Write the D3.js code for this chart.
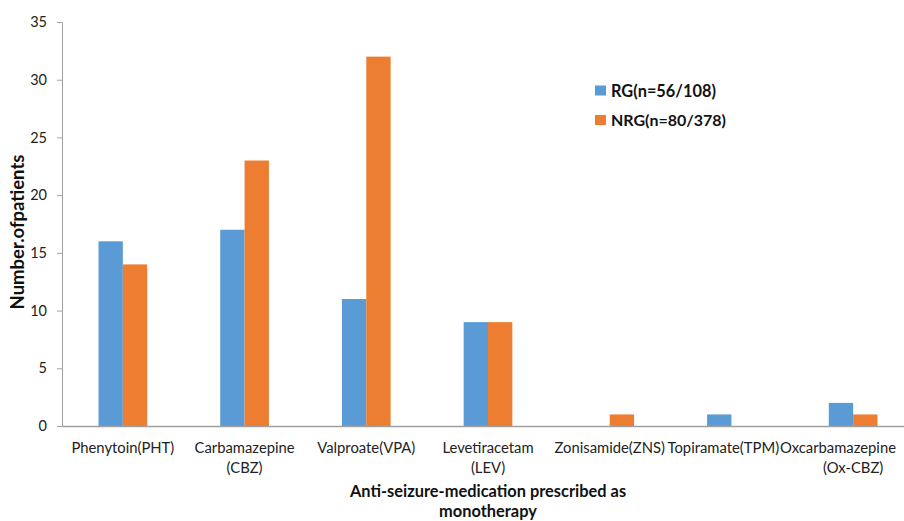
<!DOCTYPE html>
<html><head><meta charset="utf-8">
<script src="https://cdn.jsdelivr.net/npm/d3@7"></script>
<style>body{margin:0;background:#fff}svg{display:block}text{font-family:Lato,"Open Sans",sans-serif}</style>
</head><body>
<svg id="c" width="904" height="521"></svg>
<script>
const categories = [["Phenytoin(PHT)"],["Carbamazepine","(CBZ)"],["Valproate(VPA)"],["Levetiracetam","(LEV)"],["Zonisamide(ZNS)"],["Topiramate(TPM)"],["Oxcarbamazepine","(Ox-CBZ)"]];
const seriesNames = ["RG(n=56/108)","NRG(n=80/378)"];
const rgValues = [16,17,11,9,0,1,2];
const nrgValues = [14,23,32,9,1,0,1];
const yTicks = [0,5,10,15,20,25,30,35];
const colors = ["#5B9BD5","#ED7D31"];

const svg = d3.select("#c");
const x0 = d3.scaleBand().domain(d3.range(categories.length)).range([62,914]).paddingInner(0.6).paddingOuter(0.3);
const x1 = d3.scaleBand().domain([0,1]).range([0,x0.bandwidth()]);
const y = d3.scaleLinear().domain([0,35]).range([426,22]);

function fit(sel, target){
  const n = sel.node();
  const fs = parseFloat(sel.attr("font-size"));
  const w = n.getComputedTextLength();
  sel.attr("font-size", fs*target/w);
}

// bars
const data = categories.map((c,i)=>[rgValues[i],nrgValues[i]]);
const g = svg.append("g");
data.forEach((vals,i)=>{
  vals.forEach((v,s)=>{
    if(v>0) g.append("rect").attr("x",x0(i)+x1(s)).attr("y",y(v)).attr("width",x1.bandwidth()).attr("height",y(0)-y(v)).attr("fill",colors[s]);
  });
});

// y axis
const ya = svg.append("g").attr("transform","translate(62,0)").call(d3.axisLeft(y).tickValues(yTicks).tickSize(5).tickPadding(10));
ya.select(".domain").attr("stroke","#a0a0a0");
ya.selectAll(".tick line").attr("stroke","#a0a0a0");
ya.selectAll("text").attr("font-size",14.5).attr("fill","#222").style("font-family","Lato,sans-serif");

// x axis
const xa = svg.append("g").attr("transform","translate(0,426)").call(d3.axisBottom(x0).tickSize(0).tickFormat(""));
xa.select(".domain").attr("stroke","#a0a0a0").attr("stroke-width",1.5);
const firstLines = [];
xa.selectAll(".tick").each(function(d){
  const cx = x0(d) + x0.bandwidth()/2;
  const t = d3.select(this).append("text").attr("fill","#222").attr("font-size",14.8).attr("text-anchor","middle");
  categories[d].forEach((line,k)=>{
    const ts = t.append("tspan").attr("x",0).attr("y",27+k*20).text(line);
    const w = ts.node().getComputedTextLength();
    if(k===0) firstLines[d] = {ts, cx, w, off:0};
  });
});
// keep first-line labels inside the picture and clear of each other
let limit = 896;
for(let i=firstLines.length-1;i>=0;i--){
  const f = firstLines[i];
  const right = f.cx + f.w/2;
  if(right > limit){ f.off = limit - right; }
  limit = f.cx + f.off - f.w/2 - 1;
  f.ts.attr("x", f.off);
}

// axis titles
const yt = svg.append("text").attr("transform","translate(24,232) rotate(-90)").attr("text-anchor","middle").attr("font-weight","bold").attr("font-size",15).attr("fill","#111").text("Number.ofpatients");
fit(yt,155);
const xt = svg.append("text").attr("text-anchor","middle").attr("font-weight","bold").attr("font-size",15).attr("fill","#111");
const xt1 = xt.append("tspan").attr("x",488).attr("y",497).text("Anti-seizure-medication prescribed as");
const w1 = xt1.node().getComputedTextLength();
xt.attr("font-size", Math.min(15*290/w1, 16.4));
xt.append("tspan").attr("x",488).attr("y",517).text("monotherapy");

// legend
seriesNames.forEach((n,i)=>{
  const ly = 90.5 + i*29.5;
  svg.append("rect").attr("x",595).attr("y",ly-5).attr("width",11).attr("height",10).attr("fill",colors[i]);
  const t = svg.append("text").attr("x",611).attr("y",ly+6).attr("font-weight","bold").attr("font-size",16).attr("fill","#111").text(n);
  if(i===0) fit(t,105);
});
</script>
</body></html>
